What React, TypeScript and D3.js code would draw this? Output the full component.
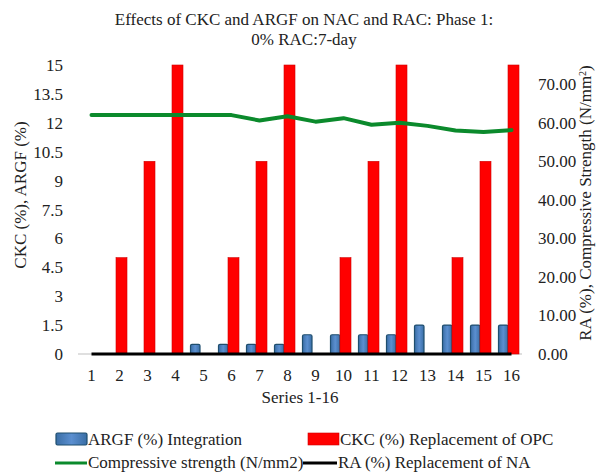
import React from "react";
import * as d3 from "d3";

const categories = ["1","2","3","4","5","6","7","8","9","10","11","12","13","14","15","16"];
const argf = [0,0,0,0,0.5,0.5,0.5,0.5,1,1,1,1,1.5,1.5,1.5,1.5];
const ckc = [0,5,10,15,0,5,10,15,0,5,10,15,0,5,10,15];
const strength = [62.0,62.0,62.0,62.0,62.0,62.0,60.6,61.7,60.3,61.2,59.5,60.0,59.2,58.0,57.6,58.1];
const ra = [0,0,0,0,0,0,0,0,0,0,0,0,0,0,0,0];
const leftTicks = [0,1.5,3,4.5,6,7.5,9,10.5,12,13.5,15];
const rightTicks = [0,10,20,30,40,50,60,70];

const W = 597, H = 475;
const font = "'Liberation Serif', 'Times New Roman', serif";

export default function App() {
  const x = d3.scaleBand<string>().domain(categories).range([77.5, 525.5]);
  const yL = d3.scaleLinear().domain([0, 15]).range([354, 65]);
  const yR = d3.scaleLinear().domain([0, 75]).range([354, 65]);
  const cx = (i: number) => (x(categories[i]) as number) + x.bandwidth() / 2;
  const line = d3.line<number>().x((_, i) => cx(i)).y(d => yR(d)).curve(d3.curveLinear);
  const raLine = d3.line<number>().x((_, i) => cx(i)).y(d => yR(d));
  const ts = { fontFamily: font, fontSize: "17px", fill: "#222" } as React.CSSProperties;

  return (
    <svg width={W} height={H} style={{ position: "absolute", left: 0, top: 0, background: "#fff" }}>
      <defs>
        <linearGradient id="blueG" x1="0" x2="1" y1="0" y2="0">
          <stop offset="0" stopColor="#3a6ea5" />
          <stop offset="0.5" stopColor="#5b8fd0" />
          <stop offset="1" stopColor="#3a6ea5" />
        </linearGradient>
      </defs>
      <text x={304} y={25} textAnchor="middle" style={ts}>Effects of CKC and ARGF on NAC and RAC: Phase 1:</text>
      <text x={304} y={45} textAnchor="middle" style={ts}>0% RAC:7-day</text>

      <line x1={78} x2={522} y1={354} y2={354} stroke="#bfbfbf" strokeWidth={1} />

      {argf.map((v, i) => v > 0 ? (
        <rect key={"a" + i} x={cx(i) - 13} y={yL(v)} width={9.5} height={yL(0) - yL(v)}
          fill="url(#blueG)" stroke="#1f4e6e" strokeWidth={1.2} rx={1.5} />
      ) : null)}
      {ckc.map((v, i) => v > 0 ? (
        <rect key={"c" + i} x={cx(i) - 3.5} y={yL(v)} width={11} height={yL(0) - yL(v)}
          fill="#ff0000" stroke="#d00000" strokeWidth={0.6} />
      ) : null)}

      <path d={raLine(ra) || ""} fill="none" stroke="#000" strokeWidth={3} />
      <path d={line(strength) || ""} fill="none" stroke="#0b8a2c" strokeWidth={4} strokeLinecap="round" strokeLinejoin="round" />

      {leftTicks.map(t => (
        <text key={"l" + t} x={63} y={yL(t) + 6} textAnchor="end" style={ts}>{t}</text>
      ))}
      {rightTicks.map(t => (
        <text key={"r" + t} x={538} y={yR(t) + 6} textAnchor="start" style={ts}>{t.toFixed(2)}</text>
      ))}
      {categories.map((c, i) => (
        <text key={"x" + c} x={cx(i)} y={381} textAnchor="middle" style={ts}>{c}</text>
      ))}
      <text x={300} y={403} textAnchor="middle" style={ts}>Series 1-16</text>

      <text transform={`translate(26,195) rotate(-90)`} textAnchor="middle" style={ts}>CKC (%), ARGF (%)</text>
      <text transform={`translate(591,203) rotate(-90)`} textAnchor="middle" style={ts}>
        RA (%), Compressive Strength (N/mm<tspan baselineShift="super" style={{ fontSize: "10px" }}>2</tspan>)
      </text>

      <rect x={56} y={433} width={31} height={12} fill="url(#blueG)" stroke="#1f4e6e" strokeWidth={1.2} rx={1.5} />
      <text x={88} y={445} style={ts}>ARGF (%) Integration</text>
      <rect x={308} y={433} width={31} height={12} fill="#ff0000" stroke="#d00000" strokeWidth={0.6} />
      <text x={340} y={445} style={ts}>CKC (%) Replacement of OPC</text>
      <line x1={55} x2={87} y1={463} y2={463} stroke="#0b8a2c" strokeWidth={3} />
      <text x={88} y={468} style={ts}>Compressive strength (N/mm2)</text>
      <line x1={303} x2={337} y1={463} y2={463} stroke="#000" strokeWidth={3} />
      <text x={338} y={468} style={ts}>RA (%) Replacement of NA</text>
    </svg>
  );
}
